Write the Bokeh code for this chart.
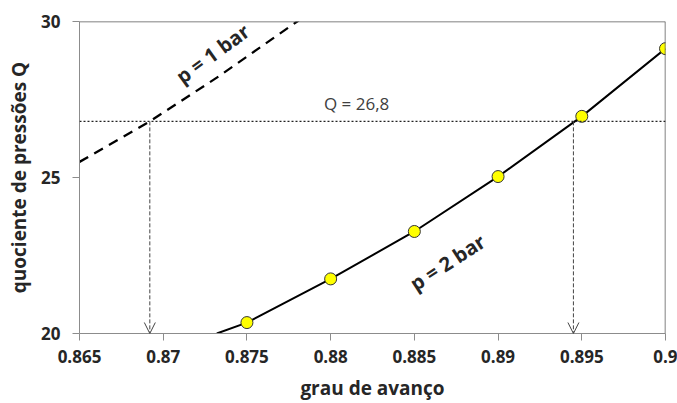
from bokeh.plotting import figure
from bokeh.models import Range1d, FixedTicker, Span, Arrow, OpenHead, Label
from bokeh.embed import file_html
from bokeh.resources import INLINE

# data
x_points = [0.875, 0.88, 0.885, 0.89, 0.895, 0.9]
q_points = [20.35, 21.75, 23.27, 25.03, 26.96, 29.13]
x_curve2 = [0.8732, 0.875, 0.88, 0.885, 0.89, 0.895, 0.9]
q_curve2 = [20.0, 20.35, 21.75, 23.27, 25.03, 26.96, 29.13]
x_curve1 = [0.865, 0.8692, 0.8732, 0.878, 0.879]
q_curve1 = [25.5, 26.8, 28.2, 30.0, 30.4]
q_target = 26.8
x_hits = [0.8692, 0.8945]
x_ticks = [0.865, 0.87, 0.875, 0.88, 0.885, 0.89, 0.895, 0.9]
x_tick_labels = ["0.865", "0.87", "0.875", "0.88", "0.885", "0.89", "0.895", "0.9"]
y_ticks = [20, 25, 30]

FONT = "Open Sans"
DARK = "#262626"

p = figure(width=677, height=403, output_backend="svg", toolbar_location=None,
           x_range=Range1d(0.865, 0.9), y_range=Range1d(20, 30),
           min_border_left=79, min_border_right=12, min_border_top=21, min_border_bottom=70)
p.outline_line_color = None
p.xgrid.visible = False
p.ygrid.visible = False
p.background_fill_color = "white"
p.border_fill_color = "white"

for ax in (p.xaxis[0], p.yaxis[0]):
    ax.axis_line_color = "#8c8c8c"
    ax.major_tick_line_color = "#8c8c8c"
    ax.minor_tick_line_color = None
    ax.major_tick_in = 0
    ax.major_tick_out = 7
    ax.major_label_text_font = FONT
    ax.major_label_text_font_style = "bold"
    ax.major_label_text_font_size = "17px"
    ax.major_label_text_color = DARK
    ax.axis_label_text_font = FONT
    ax.axis_label_text_font_style = "bold"
    ax.axis_label_text_font_size = "19px"
    ax.axis_label_text_color = DARK

p.xaxis.ticker = FixedTicker(ticks=x_ticks)
p.xaxis.major_label_overrides = {t: l for t, l in zip(x_ticks, x_tick_labels)}
p.xaxis.major_label_standoff = 9
p.xaxis.axis_label = "grau de avanço"
p.xaxis.axis_label_standoff = 9
p.yaxis.ticker = FixedTicker(ticks=y_ticks)
p.yaxis.major_label_standoff = 12
p.yaxis.axis_label = "quociente de pressões Q"
p.yaxis.axis_label_standoff = 6

# top and right border
p.add_layout(Span(location=30, dimension="width", line_color="#595959", line_width=1.5))
p.add_layout(Span(location=0.9, dimension="height", line_color="#595959", line_width=1.5))

# horizontal dotted line
p.add_layout(Span(location=q_target, dimension="width", line_color="#222222",
                  line_width=1.4, line_dash="2 2"))

# vertical arrows
for xh in x_hits:
    p.add_layout(Arrow(end=OpenHead(size=11, line_color="#444444", line_width=1),
                       x_start=xh, y_start=q_target, x_end=xh, y_end=20,
                       line_color="#444444", line_width=1, line_dash="4 2"))

# curves
p.line(x_curve1, q_curve1, line_color="black", line_width=2.3, line_dash="10 7")
p.line(x_curve2, q_curve2, line_color="black", line_width=2)
p.scatter(x_points, q_points, size=12, fill_color="#ffff00", line_color="#333333", line_width=1)

# labels
p.add_layout(Label(x=0.87295, y=28.97, text="p = 1 bar", angle=36, angle_units="deg",
                   text_align="center", text_baseline="middle", text_font=FONT,
                   text_font_style="bold", text_font_size="20px", text_color=DARK))
p.add_layout(Label(x=0.88698, y=22.28, text="p = 2 bar", angle=33, angle_units="deg",
                   text_align="center", text_baseline="middle", text_font=FONT,
                   text_font_style="bold", text_font_size="20px", text_color=DARK))
p.add_layout(Label(x=0.88155, y=27.37, text="Q = 26,8", text_align="center",
                   text_baseline="middle", text_font=FONT, text_font_size="17px",
                   text_color="#404040"))

open("out.html", "w").write(file_html(p, INLINE))
